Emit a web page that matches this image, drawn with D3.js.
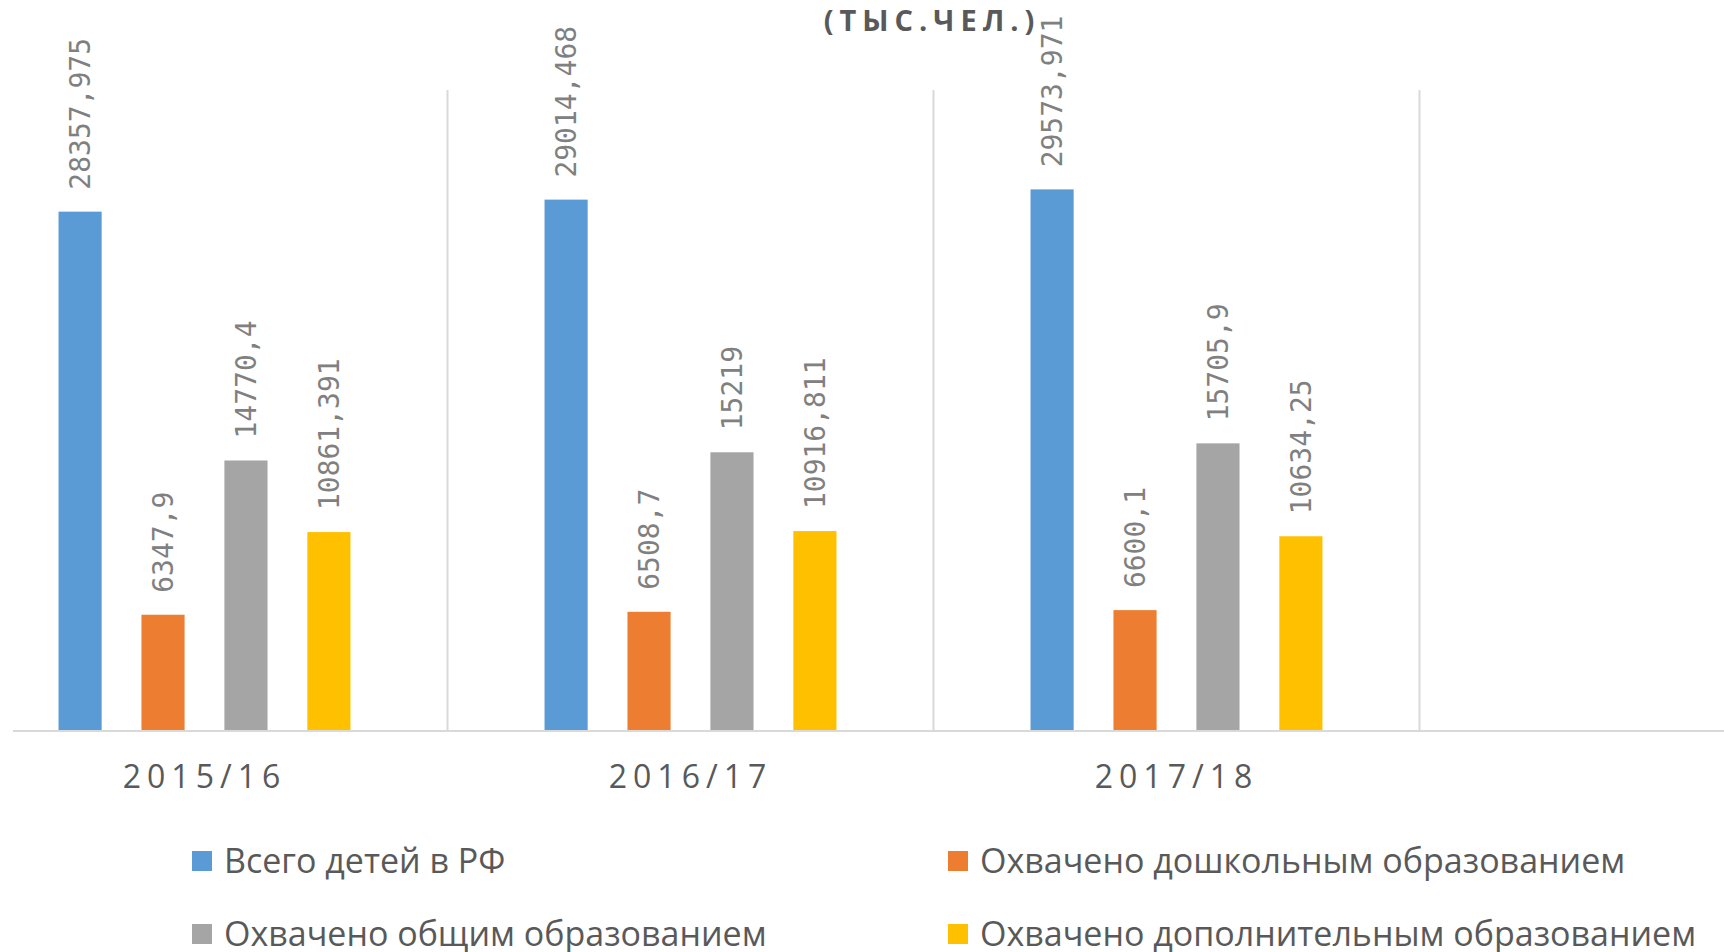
<!DOCTYPE html>
<html>
<head>
<meta charset="utf-8">
<script src="https://cdn.jsdelivr.net/npm/d3@7"></script>
<style>
    html, body { margin: 0; padding: 0; background: #ffffff; }
    #chart { width: 1724px; height: 952px; overflow: hidden; }
</style>
</head>
<body>
<div id="chart"></div>
<script>
    // categories (4th one is empty in the original chart)
    var categories = ["2015/16", "2016/17", "2017/18", ""];

    var seriesNames = [
        "Всего детей в РФ",
        "Охвачено дошкольным образованием",
        "Охвачено общим образованием",
        "Охвачено дополнительным образованием"
    ];

    var totalChildren = [28357.975, 29014.468, 29573.971];
    var preschool = [6347.9, 6508.7, 6600.1];
    var generalEdu = [14770.4, 15219, 15705.9];
    var additionalEdu = [10861.391, 10916.811, 10634.25];

    var seriesColors = ["#5B9BD5", "#ED7D31", "#A5A5A5", "#FFC000"];
    var yMax = 35000;

    var seriesValues = [totalChildren, preschool, generalEdu, additionalEdu];

    var width = 1724,
        height = 952;

    var svg = d3.select("#chart").append("svg")
        .attr("width", width)
        .attr("height", height);

    var plot = {
        left: -38.5,
        right: 1905.5,
        top: 90,
        bottom: 731
    };

    var x0 = d3.scaleBand()
        .domain(categories)
        .range([plot.left, plot.right]);

    var x1 = d3.scaleBand()
        .domain(d3.range(seriesNames.length))
        .range([0, x0.bandwidth()])
        .paddingInner(0.48)
        .paddingOuter(1.17);

    var y = d3.scaleLinear()
        .domain([0, yMax])
        .range([plot.bottom, plot.top]);

    // vertical gridlines between categories
    var boundaries = categories.map(function(c) { return x0(c); }).concat([plot.right]);
    svg.append("g")
        .selectAll("line")
        .data(boundaries)
        .enter()
        .append("line")
        .attr("x1", function(d) { return d; })
        .attr("x2", function(d) { return d; })
        .attr("y1", plot.top)
        .attr("y2", plot.bottom)
        .style("stroke", "#D9D9D9")
        .style("stroke-width", "2px");

    // bars, one group per category
    var barData = [];
    categories.forEach(function(cat, ci) {
        seriesValues.forEach(function(vals, si) {
            if (vals[ci] !== undefined) {
                barData.push({ cat: cat, series: si, value: vals[ci] });
            }
        });
    });

    svg.append("g")
        .selectAll("rect")
        .data(barData)
        .enter()
        .append("rect")
        .attr("x", function(d) { return x0(d.cat) + x1(d.series); })
        .attr("y", function(d) { return y(d.value); })
        .attr("width", x1.bandwidth())
        .attr("height", function(d) { return y(0) - y(d.value); })
        .style("fill", function(d) { return seriesColors[d.series]; });

    // value labels, rotated
    svg.append("g")
        .selectAll("text")
        .data(barData)
        .enter()
        .append("text")
        .attr("transform", function(d) {
            var cx = x0(d.cat) + x1(d.series) + x1.bandwidth() / 2;
            return "translate(" + cx + "," + (y(d.value) - 22) + ") rotate(-90)";
        })
        .attr("dy", "0.36em")
        .style("font-family", "'DejaVu Sans Mono', monospace")
        .style("font-size", "28px")
        .style("fill", "#808080")
        .text(function(d) { return String(d.value).replace(".", ","); });

    // x axis
    var xAxis = d3.axisBottom(x0).tickSize(0).tickPadding(0);
    var axisG = svg.append("g")
        .attr("transform", "translate(0," + plot.bottom + ")")
        .call(xAxis);
    axisG.select(".domain").remove();
    axisG.selectAll("text")
        .attr("y", 57)
        .attr("dy", 0)
        .style("font-family", "'Open Sans', sans-serif")
        .style("font-size", "32px")
        .style("letter-spacing", "6px")
        .style("fill", "#595959");

    svg.append("line")
        .attr("x1", 13)
        .attr("x2", width)
        .attr("y1", plot.bottom)
        .attr("y2", plot.bottom)
        .style("stroke", "#D9D9D9")
        .style("stroke-width", "2px");

    // title (only the last line is visible in the original)
    svg.append("text")
        .attr("x", 932)
        .attr("y", 31)
        .attr("text-anchor", "middle")
        .style("font-family", "'Open Sans', sans-serif")
        .style("font-weight", "bold")
        .style("font-size", "29px")
        .style("letter-spacing", "6px")
        .style("fill", "#595959")
        .text("(ТЫС.ЧЕЛ.)");

    // legend, 2 columns x 2 rows
    var legendCols = [192, 948],
        legendRows = [861, 934];

    var legend = svg.append("g")
        .selectAll("g")
        .data(seriesNames)
        .enter()
        .append("g")
        .attr("transform", function(d, i) {
            return "translate(" + legendCols[i % 2] + "," + legendRows[Math.floor(i / 2)] + ")";
        });

    legend.append("rect")
        .attr("x", 0)
        .attr("y", -10)
        .attr("width", 20)
        .attr("height", 20)
        .style("fill", function(d, i) { return seriesColors[i]; });

    legend.append("text")
        .attr("x", 32)
        .attr("y", 12)
        .style("font-family", "'Open Sans', sans-serif")
        .style("font-size", "34px")
        .style("fill", "#595959")
        .text(function(d) { return d; });
</script>
</body>
</html>
